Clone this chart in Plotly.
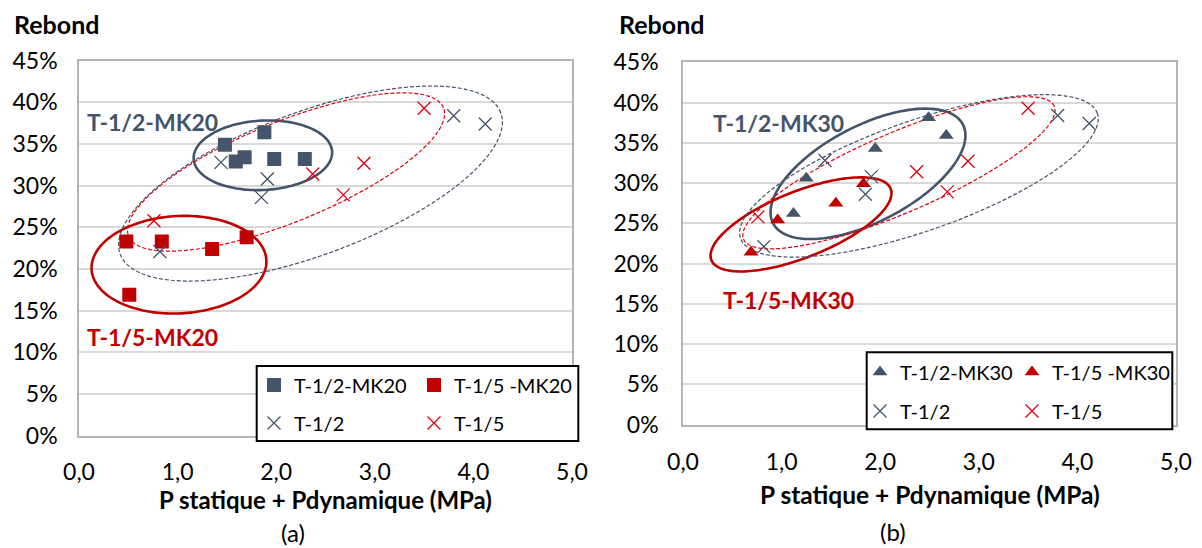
import numpy as np
import plotly.graph_objects as go

# ---------------- data ----------------
# shared reference series (plain mixes)
x_t12 = [1.44, 1.91, 1.85, 0.82, 3.80, 4.12]
y_t12 = [0.328, 0.308, 0.286, 0.221, 0.384, 0.374]
x_t15 = [0.76, 2.37, 2.89, 2.68, 3.50]
y_t15 = [0.258, 0.314, 0.327, 0.289, 0.393]

# (a) MK20 series
x_mk20_12 = [1.48, 1.88, 1.68, 1.59, 1.98, 2.29]
y_mk20_12 = [0.349, 0.364, 0.334, 0.329, 0.332, 0.332]
x_mk20_15 = [0.48, 0.84, 1.35, 1.70, 0.51]
y_mk20_15 = [0.233, 0.233, 0.224, 0.238, 0.169]

# (b) MK30 series
x_mk30_12 = [1.12, 1.25, 1.95, 2.49, 2.67]
y_mk30_12 = [0.262, 0.306, 0.343, 0.381, 0.359]
x_mk30_15 = [0.69, 0.96, 1.55, 1.83]
y_mk30_15 = [0.214, 0.254, 0.275, 0.299]

y_ticks = [0, 0.05, 0.10, 0.15, 0.20, 0.25, 0.30, 0.35, 0.40, 0.45]
x_ticks = [0, 1, 2, 3, 4, 5]

# ---------------- style / layout ----------------
W, H = 1202, 548
DARK = "#44546a"
RED_D = "#c00000"
RED_X = "#e3000f"
FONT = "Lato"

# plot areas in pixels (left, right, top(45%), bottom(0%))
PA = {"a": (79, 572, 60.7, 435.7), "b": (683, 1176, 62.3, 424.5)}


def px2paper_x(px):
    return px / W


def px2paper_y(py):
    return 1 - py / H


fig = go.Figure()

sq = dict(symbol="square", size=14)
tri = dict(symbol="triangle-up", size=13)
xm = dict(symbol="x-thin", size=13)

# each legend cell is its own legend so it can be placed exactly
traces = [
    # (a)
    (x_mk20_12, y_mk20_12, "T-1/2-MK20", dict(color=DARK, **sq), "x", "y", "legend"),
    (x_mk20_15, y_mk20_15, "T-1/5 -MK20", dict(color=RED_D, **sq), "x", "y", "legend2"),
    (x_t12, y_t12, "T-1/2", dict(color=DARK, line=dict(color=DARK, width=1.3), **xm), "x", "y", "legend3"),
    (x_t15, y_t15, "T-1/5", dict(color=RED_X, line=dict(color=RED_X, width=1.3), **xm), "x", "y", "legend4"),
    # (b)
    (x_mk30_12, y_mk30_12, "T-1/2-MK30", dict(color=DARK, **tri), "x2", "y2", "legend5"),
    (x_mk30_15, y_mk30_15, "T-1/5 -MK30", dict(color=RED_D, **tri), "x2", "y2", "legend6"),
    (x_t12, y_t12, "T-1/2", dict(color=DARK, line=dict(color=DARK, width=1.3), **xm), "x2", "y2", "legend7"),
    (x_t15, y_t15, "T-1/5", dict(color=RED_X, line=dict(color=RED_X, width=1.3), **xm), "x2", "y2", "legend8"),
]
for xs_, ys_, name, mk, xa, ya, lg in traces:
    fig.add_trace(go.Scatter(x=xs_, y=ys_, mode="markers", name=name, marker=mk,
                             xaxis=xa, yaxis=ya, legend=lg, showlegend=True))

axis_common = dict(showgrid=True, gridcolor="#d9d9d9", gridwidth=1.5,
                   showline=True, linecolor="#b4b4b4", linewidth=1.5, mirror=True,
                   zeroline=False, automargin=False,
                   tickfont=dict(family=FONT, size=23, color="black"))

XLAB_GAP = {"a": 15, "b": 16.5}
YLAB_GAP = {"a": 15, "b": 18}


def xaxis_for(key, anchor):
    l, r, t, b = PA[key]
    return dict(axis_common, domain=[px2paper_x(l), px2paper_x(r)], range=[0, 5],
                tickvals=x_ticks, tickformat=".1f", anchor=anchor, showgrid=False,
                ticks="outside", ticklen=XLAB_GAP[key], tickcolor="rgba(0,0,0,0)")


def yaxis_for(key, anchor):
    l, r, t, b = PA[key]
    return dict(axis_common, domain=[px2paper_y(b), px2paper_y(t)], range=[0, 0.45],
                tickvals=y_ticks, tickformat=".0%", anchor=anchor, ticks="",
                ticklabelstandoff=YLAB_GAP[key])


fig.update_layout(
    template="none",
    width=W, height=H, margin=dict(l=0, r=0, t=0, b=0, autoexpand=False),
    paper_bgcolor="white", plot_bgcolor="white", separators=", ",
    font=dict(family=FONT, size=22, color="black"),
    xaxis=xaxis_for("a", "y"), yaxis=yaxis_for("a", "x"),
    xaxis2=xaxis_for("b", "y2"), yaxis2=yaxis_for("b", "x2"),
    hovermode=False, showlegend=True,
)

# legend cells: (legend id, marker x px, row centre y px)
leg_common = dict(orientation="v", xanchor="left", yanchor="middle", bgcolor="rgba(0,0,0,0)",
                  borderwidth=0, font=dict(family=FONT, size=20, color="black"),
                  itemwidth=30, visible=True)
leg_cells = [
    ("legend", 275, 385), ("legend2", 435, 385), ("legend3", 275, 423), ("legend4", 435, 423),
    ("legend5", 881, 372), ("legend6", 1033, 372), ("legend7", 881, 411), ("legend8", 1033, 411),
]
MARK_OFF = 21  # marker centre offset from legend left edge
fig.update_layout(**{
    lid: dict(leg_common, x=px2paper_x(mx - MARK_OFF), y=px2paper_y(ry))
    for lid, mx, ry in leg_cells
})

shapes = []
for (x0, y0, x1, y1) in [(256.7, 366, 578.3, 441), (866.7, 352.3, 1172.3, 429.3)]:
    shapes.append(dict(type="rect", xref="paper", yref="paper",
                       x0=px2paper_x(x0), x1=px2paper_x(x1), y0=px2paper_y(y1), y1=px2paper_y(y0),
                       line=dict(color="black", width=2), fillcolor="white", layer="above"))

# ellipses: (chart, centre x [MPa], centre y [fraction], semi-axes in px, tilt in deg, colour, dash, width)
ellipses = [
    ("a", 1.865, 0.3365, 69.3, 34.7, 3.0, DARK, "solid", 2.6),
    ("a", 1.014, 0.2052, 87.5, 48.7, 3.0, RED_D, "solid", 2.6),
    ("a", 2.10, 0.3164, 170, 50, 22.2, RED_X, "4px,2px", 1.2),
    ("a", 2.348, 0.3026, 203, 71.6, 20.4, DARK, "4px,2px", 1.2),
    ("b", 1.876, 0.3114, 107, 48, 27.5, DARK, "solid", 2.6),
    ("b", 1.197, 0.2486, 96.5, 33, 21.7, RED_D, "solid", 2.6),
    ("b", 2.19, 0.3127, 169, 40, 23.2, RED_X, "4px,2px", 1.2),
    ("b", 2.393, 0.3089, 189, 55, 19.3, DARK, "4px,2px", 1.2),
]
t = np.linspace(0, 2 * np.pi, 181)
for key, cx, cy, a, b, ang, col, dash, lw in ellipses:
    l, r, top, bot = PA[key]
    sx = (r - l) / 5.0
    sy = (bot - top) / 0.45
    th = np.radians(ang)
    dx = a * np.cos(t) * np.cos(th) - b * np.sin(t) * np.sin(th)
    dy = a * np.cos(t) * np.sin(th) + b * np.sin(t) * np.cos(th)
    xs = cx + dx / sx
    ys = cy + dy / sy
    path = "M " + " L ".join(f"{xx:.4f},{yy:.5f}" for xx, yy in zip(xs, ys)) + " Z"
    xr, yr = ("x", "y") if key == "a" else ("x2", "y2")
    shapes.append(dict(type="path", path=path, xref=xr, yref=yr,
                       line=dict(color=col, width=lw, dash=dash), layer="between"))
fig.update_layout(shapes=shapes)

XT = "<b>P statique + Pdynamique (MPa)</b>"
ann = [
    dict(text="<b>Rebond</b>", x=12, y=24, xanchor="left", color="black", size=25),
    dict(text="<b>Rebond</b>", x=617, y=24, xanchor="left", color="black", size=25),
    dict(text=XT, x=325.5, y=499, xanchor="center", color="black", size=24),
    dict(text=XT, x=929.5, y=494, xanchor="center", color="black", size=24.5),
    dict(text="<b>T-1/2-MK20</b>", x=85, y=122, xanchor="left", color=DARK, size=23),
    dict(text="<b>T-1/5-MK20</b>", x=85, y=337, xanchor="left", color=RED_D, size=23),
    dict(text="<b>T-1/2-MK30</b>", x=711, y=123, xanchor="left", color=DARK, size=23),
    dict(text="<b>T-1/5-MK30</b>", x=721, y=300, xanchor="left", color=RED_D, size=23),
    dict(text="(a)", x=293, y=532, xanchor="center", color="black", size=24),
    dict(text="(b)", x=893, y=531, xanchor="center", color="black", size=24),
]
fig.update_layout(annotations=[
    dict(text=a["text"], x=px2paper_x(a["x"]), y=px2paper_y(a["y"]), xref="paper", yref="paper",
         xanchor=a["xanchor"], yanchor="middle", showarrow=False,
         font=dict(family=FONT, size=a["size"], color=a["color"]))
    for a in ann
])

fig.write_html("out.html", config={"displayModeBar": False},
               post_script="document.body.style.margin='0px';")
